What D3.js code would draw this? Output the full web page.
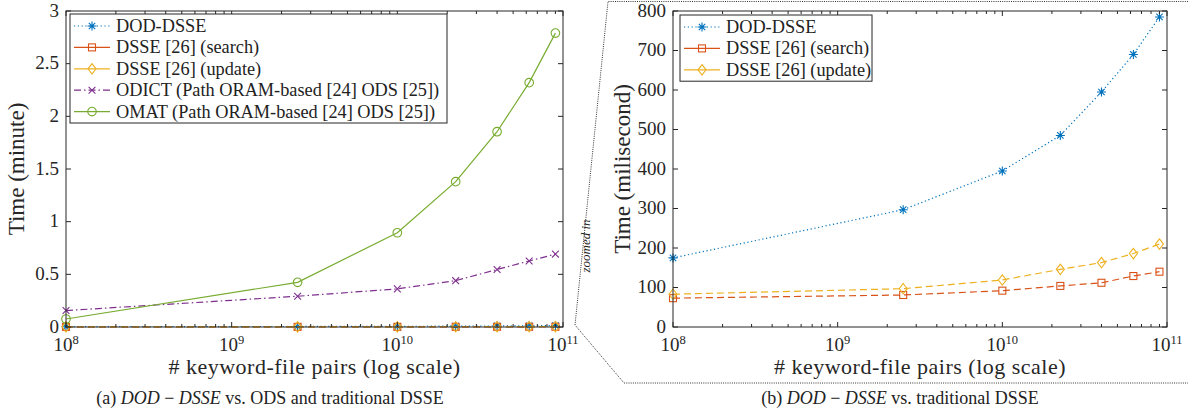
<!DOCTYPE html>
<html>
<head>
<meta charset="utf-8">
<script src="https://cdn.jsdelivr.net/npm/d3@7"></script>
<style>
  body { margin: 0; background: #fff; }
  svg { display: block; }
  svg text { font-family: "Liberation Serif", "DejaVu Serif", serif; }
</style>
</head>
<body>
<div id="chart"></div>
<script>
// keyword-file pairs
var pairs = [1e8, 2.5e9, 1e10, 2.25e10, 4e10, 6.25e10, 9e10];

// milliseconds
var dodMs = [175, 297, 395, 485, 595, 690, 785];
var searchMs = [73, 81, 92, 104, 112, 129, 140];
var updateMs = [83, 97, 119, 146, 163, 186, 210];

// minutes
var odict = [0.156, 0.292, 0.362, 0.44, 0.546, 0.627, 0.692];
var omat = [0.076, 0.424, 0.895, 1.38, 1.854, 2.32, 2.79];

var leftYTicks = [0, 0.5, 1, 1.5, 2, 2.5, 3];
var rightYTicks = [0, 100, 200, 300, 400, 500, 600, 700, 800];
var xMajor = [1e8, 1e9, 1e10, 1e11];

var width = 1188,
    height = 414;

var axisColor = "#262626";

var svg = d3.select("#chart")
    .append("svg")
    .attr("width", width)
    .attr("height", height)

var series = {
    dod: { name: "DOD-DSSE", color: "#0072BD", dash: "1.2,2.6", marker: "star" },
    search: { name: "DSSE [26] (search)", color: "#D95319", dash: "7,4", marker: "square" },
    update: { name: "DSSE [26] (update)", color: "#EDB120", dash: "7,4", marker: "diamond" },
    odict: { name: "ODICT (Path ORAM-based [24] ODS [25])", color: "#7E2F8E", dash: "7,3,1.5,3", marker: "cross" },
    omat: { name: "OMAT (Path ORAM-based [24] ODS [25])", color: "#77AC30", dash: null, marker: "circle" }
}

function drawMarker(g, type, x, y, color) {
    var m = g.append("g").attr("transform", "translate(" + x + "," + y + ")")
        .attr("fill", "none").attr("stroke", color).attr("stroke-width", 1.1)
    if (type == "star") {
        var r = 4.5
        m.append("path").attr("d", "M" + (-r) + ",0H" + r + "M0," + (-r) + "V" + r +
            "M-3.2,-3.2L3.2,3.2M-3.2,3.2L3.2,-3.2")
    } else if (type == "square") {
        m.append("rect").attr("x", -3.5).attr("y", -3.5).attr("width", 7).attr("height", 7)
    } else if (type == "diamond") {
        m.append("path").attr("d", "M0,-5.2L4,0L0,5.2L-4,0Z")
    } else if (type == "cross") {
        m.append("path").attr("d", "M-3.4,-3.4L3.4,3.4M-3.4,3.4L3.4,-3.4")
    } else if (type == "circle") {
        m.append("circle").attr("r", 4.3)
    }
}

function drawPanel(opts) {
    var g = svg.append("g")

    var x = d3.scaleLog().domain([1e8, 1e11]).range([opts.x0, opts.x1])
    var y = d3.scaleLinear().domain(opts.yDomain).range([opts.y1, opts.y0])

    // data lines
    opts.lines.forEach(function(s) {
        var st = series[s.key]
        var line = d3.line()
            .x(function(d, i) { return x(pairs[i]) })
            .y(function(d) { return y(d) })
        g.append("path")
            .datum(s.values)
            .attr("d", line)
            .attr("fill", "none")
            .attr("stroke", st.color)
            .attr("stroke-width", 1.2)
            .attr("stroke-dasharray", st.dash)
        s.values.forEach(function(d, i) {
            drawMarker(g, st.marker, x(pairs[i]), y(d), st.color)
        })
    })

    // frame
    g.append("rect")
        .attr("x", opts.x0).attr("y", opts.y0)
        .attr("width", opts.x1 - opts.x0).attr("height", opts.y1 - opts.y0)
        .attr("fill", "none").attr("stroke", axisColor).attr("stroke-width", 1)

    // x ticks, major and minor, top and bottom
    var minor = []
    for (var e = 8; e < 11; e++) {
        for (var k = 2; k < 10; k++) minor.push(k * Math.pow(10, e))
    }
    var ticks = g.append("g").attr("stroke", axisColor).attr("stroke-width", 1)
    xMajor.forEach(function(v) {
        ticks.append("line").attr("x1", x(v)).attr("x2", x(v)).attr("y1", opts.y1).attr("y2", opts.y1 - 5)
        ticks.append("line").attr("x1", x(v)).attr("x2", x(v)).attr("y1", opts.y0).attr("y2", opts.y0 + 5)
    })
    minor.forEach(function(v) {
        ticks.append("line").attr("x1", x(v)).attr("x2", x(v)).attr("y1", opts.y1).attr("y2", opts.y1 - 3)
        ticks.append("line").attr("x1", x(v)).attr("x2", x(v)).attr("y1", opts.y0).attr("y2", opts.y0 + 3)
    })
    opts.yTicks.forEach(function(v) {
        ticks.append("line").attr("x1", opts.x0).attr("x2", opts.x0 + 5).attr("y1", y(v)).attr("y2", y(v))
        ticks.append("line").attr("x1", opts.x1).attr("x2", opts.x1 - 5).attr("y1", y(v)).attr("y2", y(v))
    })

    // tick labels
    xMajor.forEach(function(v) {
        var t = g.append("text")
            .attr("x", x(v)).attr("y", opts.y1 + 24)
            .attr("text-anchor", "middle")
            .attr("font-size", 19).attr("fill", axisColor)
        t.append("tspan").text("10")
        t.append("tspan").attr("dy", -7).attr("font-size", 12.5).text(Math.round(Math.log10(v)))
    })
    opts.yTicks.forEach(function(v) {
        g.append("text")
            .attr("x", opts.x0 - 7).attr("y", y(v) + 5.5)
            .attr("text-anchor", "end")
            .attr("font-size", 19).attr("fill", axisColor)
            .text(v)
    })

    // axis labels
    g.append("text")
        .attr("x", (opts.x0 + opts.x1) / 2).attr("y", 374)
        .attr("text-anchor", "middle").attr("font-size", 22).attr("fill", axisColor)
        .attr("letter-spacing", 0.5)
        .text("# keyword-file pairs (log scale)")
    g.append("text")
        .attr("transform", "translate(" + opts.yLabelX + "," + ((opts.y0 + opts.y1) / 2) + ") rotate(-90)")
        .attr("text-anchor", "middle").attr("font-size", 23).attr("fill", axisColor)
        .text(opts.yLabel)

    // caption, centred on the whole sub-figure
    var cap = g.append("text")
        .attr("x", opts.capX).attr("y", 404)
        .attr("text-anchor", "middle").attr("font-size", 18).attr("fill", "#222")
    cap.append("tspan").text(opts.capPre)
    cap.append("tspan").attr("font-style", "italic").text("DOD")
    cap.append("tspan").text(" \u2212 ")
    cap.append("tspan").attr("font-style", "italic").text("DSSE")
    cap.append("tspan").text(opts.capPost)

    // legend
    var lg = g.append("g")
    var rowH = 21.4
    lg.append("rect")
        .attr("x", opts.legX).attr("y", opts.legY)
        .attr("width", opts.legW).attr("height", opts.lines.length * rowH + 2)
        .attr("fill", "#fff").attr("stroke", axisColor).attr("stroke-width", 1)
    opts.lines.forEach(function(s, i) {
        var st = series[s.key]
        var cy = opts.legY + 12 + i * rowH
        lg.append("line")
            .attr("x1", opts.legX + 4).attr("x2", opts.legX + 40)
            .attr("y1", cy).attr("y2", cy)
            .attr("stroke", st.color).attr("stroke-width", 1.2)
            .attr("stroke-dasharray", st.dash == "7,4" ? null : st.dash)
        drawMarker(lg, st.marker, opts.legX + 22, cy, st.color)
        lg.append("text")
            .attr("x", opts.legX + 46).attr("y", cy + 6)
            .attr("font-size", 18.3).attr("fill", "#222")
            .text(st.name)
    })
}

// (a) all schemes, minutes
drawPanel({
    x0: 66, x1: 563, y0: 11, y1: 327,
    yDomain: [0, 3], yTicks: leftYTicks,
    yLabel: "Time (minute)", yLabelX: 24,
    capX: 270, capPre: "(a) ", capPost: " vs. ODS and traditional DSSE",
    legX: 70, legY: 14, legW: 377,
    lines: [
        { key: "dod", values: dodMs.map(function(d) { return d / 60000 }) },
        { key: "search", values: searchMs.map(function(d) { return d / 60000 }) },
        { key: "update", values: updateMs.map(function(d) { return d / 60000 }) },
        { key: "odict", values: odict },
        { key: "omat", values: omat }
    ]
})

// (b) zoomed in, milliseconds
drawPanel({
    x0: 673, x1: 1167, y0: 11, y1: 327,
    yDomain: [0, 800], yTicks: rightYTicks,
    yLabel: "Time (milisecond)", yLabelX: 630,
    capX: 900, capPre: "(b) ", capPost: " vs. traditional DSSE",
    legX: 680, legY: 15, legW: 192,
    lines: [
        { key: "dod", values: dodMs },
        { key: "search", values: searchMs },
        { key: "update", values: updateMs }
    ]
})

// zoom callout
svg.append("path")
    .attr("d", "M1188,1.5H608L575,325L624,383H1188")
    .attr("fill", "none").attr("stroke", "#333").attr("stroke-width", 1)
    .attr("stroke-dasharray", "1,1.2")

svg.append("text")
    .attr("transform", "translate(590,246) rotate(-90)")
    .attr("text-anchor", "middle").attr("font-size", 13).attr("font-style", "italic")
    .attr("fill", "#222")
    .text("zoomed in")
</script>
</body>
</html>
